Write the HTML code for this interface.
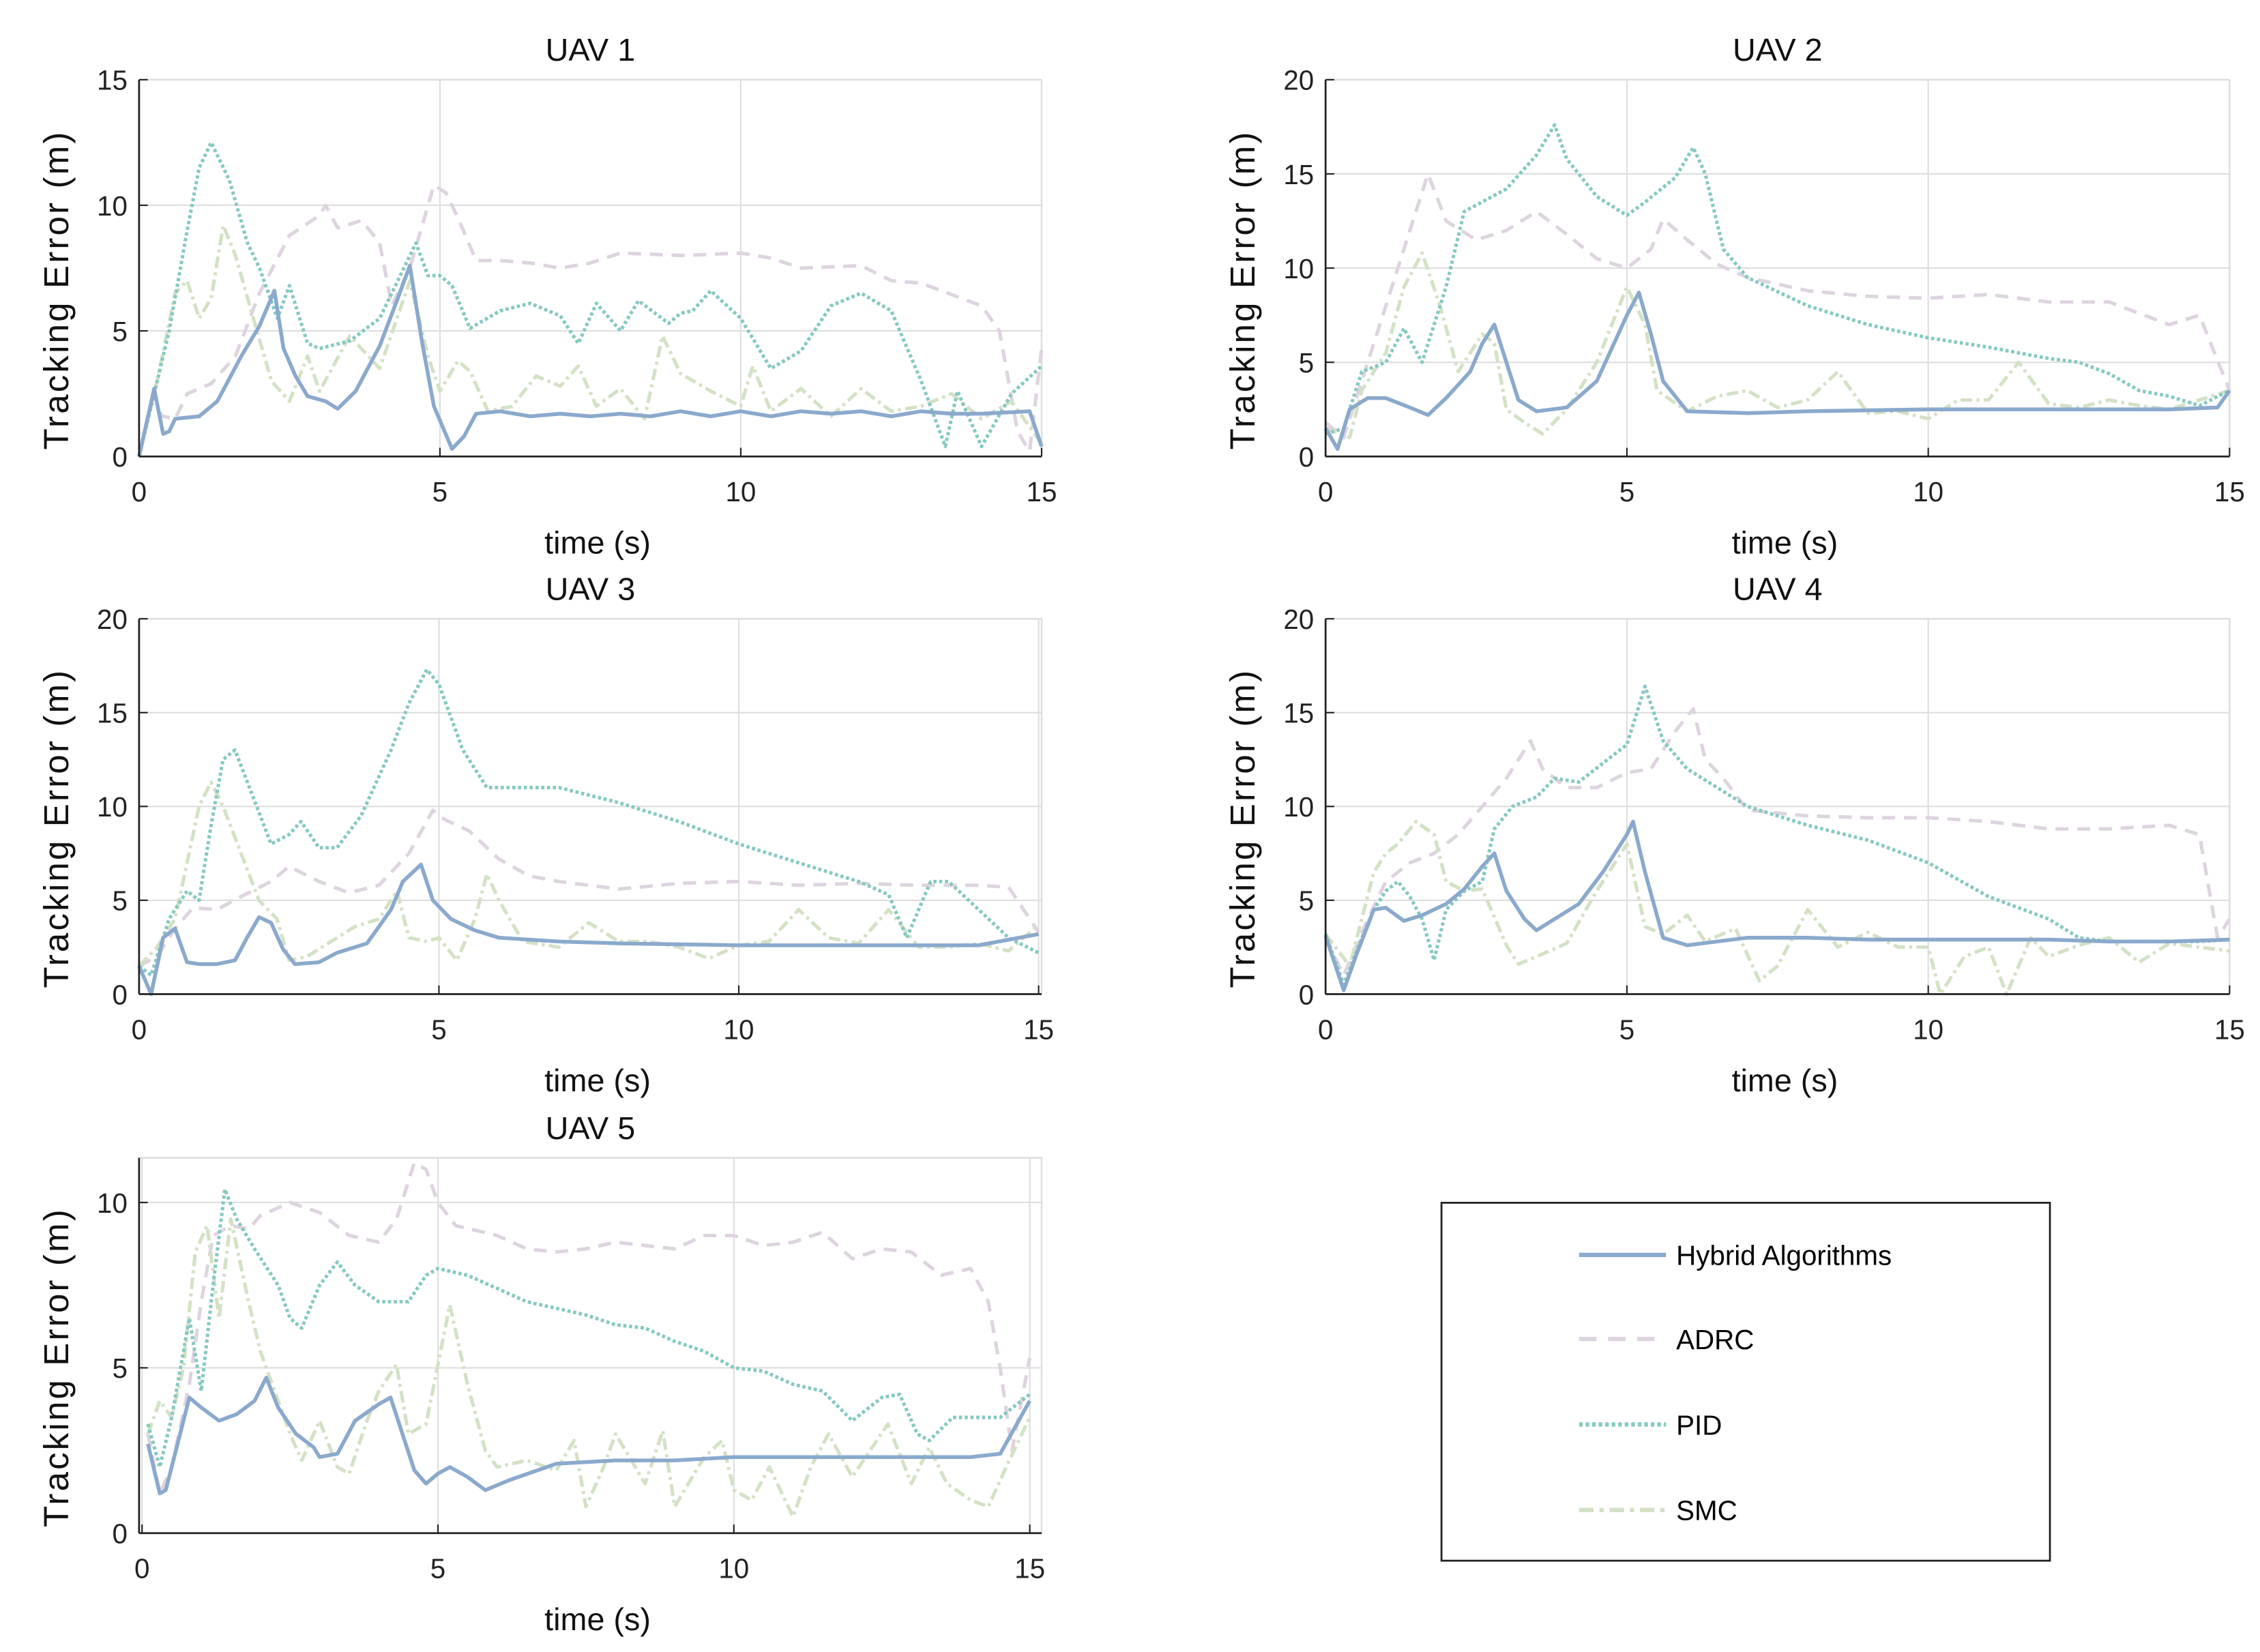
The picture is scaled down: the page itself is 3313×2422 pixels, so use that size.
<!DOCTYPE html>
<html><head><meta charset="utf-8"><style>
html,body{margin:0;padding:0;background:#fff;}
svg{display:block;font-family:"Liberation Sans",sans-serif;}
</style></head><body>
<svg id="fig" width="3313" height="2422" viewBox="0 0 1560 1140" preserveAspectRatio="none" xmlns="http://www.w3.org/2000/svg">
<g>
<rect x="995" y="830" width="420" height="247" fill="#fff" stroke="#222" stroke-width="1.3"/>
<g><line x1="1090" y1="866" x2="1150" y2="866" stroke="#8aa9cc" stroke-width="3"/><text x="1157" y="873" font-size="19">Hybrid Algorithms</text></g>
<g><line x1="1090" y1="924" x2="1150" y2="924" stroke="#ddd4df" stroke-width="3" stroke-dasharray="12,8"/><text x="1157" y="931" font-size="19">ADRC</text></g>
<g><line x1="1090" y1="983" x2="1150" y2="983" stroke="#86c9c1" stroke-width="3" stroke-dasharray="2.5,2"/><text x="1157" y="990" font-size="19">PID</text></g>
<g><line x1="1090" y1="1042" x2="1150" y2="1042" stroke="#d3e1c5" stroke-width="3" stroke-dasharray="10,4,3,4"/><text x="1157" y="1049" font-size="19">SMC</text></g>
</g>
</svg>
<script>
const uav1Hybrid=[[0,0],[0.25,2.7],[0.4,0.9],[0.5,1],[0.6,1.5],[1,1.6],[1.3,2.2],[1.7,4],[2,5.2],[2.25,6.6],[2.4,4.3],[2.6,3.2],[2.8,2.4],[3.1,2.2],[3.3,1.9],[3.6,2.6],[4,4.4],[4.3,6.3],[4.5,7.6],[4.7,4.6],[4.9,2],[5.2,0.3],[5.4,0.8],[5.6,1.7],[6,1.8],[6.5,1.6],[7,1.7],[7.5,1.6],[8,1.7],[8.5,1.6],[9,1.8],[9.5,1.6],[10,1.8],[10.5,1.6],[11,1.8],[11.5,1.7],[12,1.8],[12.5,1.6],[13,1.8],[13.5,1.7],[14,1.7],[14.8,1.8],[15,0.4]];
const uav1Adrc=[[0,0],[0.2,2.1],[0.4,1.6],[0.6,1.5],[0.8,2.5],[1.2,2.9],[1.6,4],[2,6.5],[2.5,8.8],[3,9.6],[3.1,10],[3.3,9.1],[3.7,9.4],[4,8.5],[4.2,6],[4.5,7.5],[4.9,10.8],[5.1,10.5],[5.3,9.5],[5.6,7.8],[6,7.8],[6.5,7.7],[7,7.5],[7.5,7.7],[8,8.1],[9,8],[10,8.1],[10.5,7.9],[11,7.5],[12,7.6],[12.5,7],[13,6.9],[14,6],[14.3,5],[14.6,1],[14.8,0.2],[15,4.3]];
const uav1Pid=[[0,0],[0.5,5],[0.8,9],[1,11.5],[1.2,12.5],[1.5,11],[1.8,8.5],[2,7.5],[2.3,5.5],[2.5,6.8],[2.8,4.5],[3,4.3],[3.5,4.6],[4,5.5],[4.3,7],[4.6,8.5],[4.8,7.2],[5,7.2],[5.2,6.8],[5.5,5.1],[6,5.8],[6.5,6.1],[7,5.6],[7.3,4.5],[7.6,6.1],[8,5],[8.3,6.2],[8.8,5.3],[9,5.7],[9.2,5.8],[9.5,6.6],[10,5.5],[10.5,3.5],[11,4.2],[11.5,6],[12,6.5],[12.5,5.8],[13,3],[13.4,0.4],[13.6,2.6],[14,0.4],[14.5,2.5],[15,3.6]];
const uav1Smc=[[0,0],[0.3,3],[0.6,6.5],[0.8,7],[1,5.5],[1.2,6.3],[1.4,9.2],[1.6,8],[1.9,5.5],[2.2,3],[2.5,2.2],[2.8,4],[3,2.6],[3.5,4.8],[4,3.5],[4.5,7],[4.8,4],[5,2.6],[5.3,3.8],[5.5,3.4],[5.8,1.8],[6.2,2],[6.6,3.2],[7,2.8],[7.3,3.6],[7.6,2],[8,2.7],[8.4,1.5],[8.7,4.8],[9,3.3],[9.5,2.6],[10,2],[10.2,3.6],[10.5,1.8],[11,2.7],[11.5,1.6],[12,2.7],[12.5,1.8],[13,2],[13.5,2.5],[14,1.5],[14.5,2.2],[15,0.5]];
const uav2Hybrid=[[0,1.5],[0.2,0.4],[0.4,2.5],[0.7,3.1],[1,3.1],[1.4,2.6],[1.7,2.2],[2,3.1],[2.4,4.5],[2.6,6],[2.8,7],[3,5],[3.2,3],[3.5,2.4],[4,2.6],[4.5,4],[5,7.5],[5.2,8.7],[5.4,6.5],[5.6,4],[6,2.4],[7,2.3],[8,2.4],[10,2.5],[12,2.5],[14,2.5],[14.8,2.6],[15,3.5]];
const uav2Adrc=[[0,1.8],[0.3,1],[0.6,4],[1,8],[1.4,12],[1.7,15],[2,12.5],[2.5,11.5],[3,12],[3.5,13],[4,11.8],[4.5,10.5],[5,10],[5.4,11],[5.6,12.6],[6,11.5],[6.5,10.2],[7,9.5],[8,8.8],[9,8.5],[10,8.4],[11,8.6],[12,8.2],[13,8.2],[14,7],[14.5,7.5],[15,3.5]];
const uav2Pid=[[0,1.2],[0.3,1.5],[0.6,4.5],[1,5],[1.3,6.8],[1.6,5],[2,9],[2.3,13],[3,14.2],[3.5,16],[3.8,17.6],[4,15.8],[4.5,13.8],[5,12.8],[5.3,13.5],[5.8,14.8],[6.1,16.4],[6.3,15],[6.6,11],[7,9.5],[8,8],[9,7],[10,6.3],[11,5.8],[12,5.2],[12.5,5],[13,4.4],[13.5,3.5],[14,3.2],[14.5,2.7],[15,3.5]];
const uav2Smc=[[0,1.5],[0.4,1],[0.6,3.5],[1,5.5],[1.3,9],[1.6,10.8],[1.9,8],[2.2,4.5],[2.6,6.5],[2.8,6],[3,2.5],[3.3,1.8],[3.6,1.2],[4,2.5],[4.5,5],[5,9],[5.3,7],[5.5,3.5],[6,2.4],[6.5,3.2],[7,3.5],[7.5,2.6],[8,3],[8.5,4.5],[9,2.3],[9.5,2.4],[10,2],[10.5,3],[11,3],[11.5,5],[12,2.8],[12.5,2.6],[13,3],[13.5,2.7],[14,2.5],[14.5,3],[15,3.5]];
const uav3Hybrid=[[0,1.5],[0.2,0],[0.4,3],[0.6,3.5],[0.8,1.7],[1,1.6],[1.3,1.6],[1.6,1.8],[1.8,3],[2,4.1],[2.2,3.8],[2.4,2.4],[2.6,1.6],[3,1.7],[3.3,2.2],[3.8,2.7],[4.2,4.5],[4.4,6],[4.7,6.9],[4.9,5],[5.2,4],[5.6,3.4],[6,3],[7,2.8],[8,2.7],[10,2.6],[12,2.6],[14,2.6],[15,3.2]];
const uav3Adrc=[[0,1.5],[0.3,2],[0.6,3.5],[0.9,4.6],[1.3,4.5],[1.7,5.2],[2.2,6],[2.5,6.8],[3,6],[3.5,5.4],[4,5.8],[4.5,7.5],[4.9,9.8],[5.1,9.3],[5.5,8.7],[6,7.2],[6.5,6.3],[7,6],[8,5.6],[9,5.9],[10,6],[11,5.8],[12,5.9],[13,5.8],[14,5.8],[14.5,5.7],[15,3.3]];
const uav3Pid=[[0,1.5],[0.2,1],[0.5,4],[0.8,5.5],[1,5],[1.2,9],[1.4,12.5],[1.6,13],[1.9,10.5],[2.2,8],[2.5,8.5],[2.7,9.2],[3,7.8],[3.3,7.8],[3.7,9.5],[4.2,13],[4.5,15.5],[4.8,17.3],[5,16.5],[5.4,13],[5.8,11],[6.5,11],[7,11],[8,10.2],[9,9.2],[10,8],[11,7],[12,6],[12.5,5.3],[12.8,3],[13.2,6],[13.5,6],[14,4.5],[14.5,3],[15,2.2]];
const uav3Smc=[[0,1.5],[0.3,2.5],[0.6,4],[1,10],[1.2,11.3],[1.4,10],[1.7,7.5],[2,5],[2.3,4],[2.5,1.8],[2.8,2],[3.2,2.8],[3.6,3.6],[4,4],[4.3,5.5],[4.5,3],[4.8,2.8],[5,3],[5.3,1.8],[5.6,4],[5.8,6.4],[6,5],[6.4,2.8],[7,2.5],[7.5,3.8],[8,2.8],[8.5,2.8],[9,2.5],[9.5,1.9],[10,2.6],[10.5,2.8],[11,4.5],[11.5,3],[12,2.7],[12.5,4.5],[13,2.5],[13.5,2.5],[14,2.7],[14.5,2.3],[15,3.7]];
const uav4Hybrid=[[0,3.1],[0.3,0.2],[0.5,2],[0.8,4.5],[1,4.6],[1.3,3.9],[1.6,4.2],[2,4.8],[2.3,5.6],[2.6,6.8],[2.8,7.5],[3,5.5],[3.3,4],[3.5,3.4],[3.8,4],[4.2,4.8],[4.6,6.5],[5,8.5],[5.1,9.2],[5.3,6.5],[5.6,3],[6,2.6],[7,3],[8,3],[9,2.9],[10,2.9],[11,2.9],[12,2.9],[13,2.8],[14,2.8],[15,2.9]];
const uav4Adrc=[[0,3],[0.3,1],[0.7,4],[1,6],[1.4,7],[1.8,7.5],[2.2,8.5],[2.6,10],[3,11.5],[3.4,13.5],[3.6,12],[4,11],[4.5,11],[5,11.8],[5.4,12],[5.8,14],[6.1,15.2],[6.3,12.5],[6.6,11.5],[7,9.8],[8,9.5],[9,9.4],[10,9.4],[11,9.2],[12,8.8],[13,8.8],[14,9],[14.5,8.5],[14.8,3],[15,4]];
const uav4Pid=[[0,3.2],[0.3,0.5],[0.6,3],[0.8,4.5],[1,5.5],[1.2,6],[1.4,5.2],[1.6,4],[1.8,1.8],[2,4.5],[2.3,5.5],[2.6,6],[2.8,8.8],[3.1,10],[3.5,10.5],[3.8,11.5],[4.2,11.3],[4.6,12.3],[5,13.3],[5.3,16.4],[5.6,13.5],[6,12],[6.5,11],[7,10],[8,9],[9,8.2],[10,7],[11,5.2],[12,4],[12.5,3],[13,2.8],[14,2.8],[14.5,2.8],[15,2.9]];
const uav4Smc=[[0,3.2],[0.4,1.5],[0.8,6.5],[1,7.5],[1.2,8],[1.5,9.2],[1.8,8.5],[2,6],[2.3,5.5],[2.6,5.6],[3,2.6],[3.2,1.6],[3.5,2],[4,2.7],[4.5,5.5],[5,8],[5.3,3.6],[5.6,3.2],[6,4.2],[6.3,2.8],[6.8,3.5],[7.2,0.7],[7.5,1.5],[8,4.5],[8.5,2.5],[9,3.3],[9.5,2.5],[10,2.5],[10.2,0],[10.6,2],[11,2.5],[11.3,0],[11.7,3],[12,2],[12.5,2.6],[13,3],[13.5,1.7],[14,2.7],[14.5,2.5],[15,2.3]];
const uav5Hybrid=[[0.1,2.7],[0.3,1.2],[0.4,1.3],[0.5,2],[0.8,4.1],[1,3.8],[1.3,3.4],[1.6,3.6],[1.9,4],[2.1,4.7],[2.3,3.8],[2.6,3],[2.9,2.6],[3,2.3],[3.3,2.4],[3.6,3.4],[4,3.9],[4.2,4.1],[4.4,3],[4.6,1.9],[4.8,1.5],[5,1.8],[5.2,2],[5.5,1.7],[5.8,1.3],[6.2,1.6],[7,2.1],[8,2.2],[9,2.2],[10,2.3],[11,2.3],[12,2.3],[13,2.3],[14,2.3],[14.5,2.4],[15,4]];
const uav5Adrc=[[0.1,3],[0.3,1.2],[0.5,2],[0.8,4.5],[1,7],[1.2,9],[1.5,9.3],[1.8,9.2],[2,9.6],[2.5,10],[3,9.7],[3.5,9],[4,8.8],[4.3,9.5],[4.6,11.2],[4.8,11],[5,10],[5.3,9.3],[6,9],[6.5,8.6],[7,8.5],[7.5,8.6],[8,8.8],[9,8.6],[9.5,9],[10,9],[10.5,8.7],[11,8.8],[11.5,9.1],[12,8.3],[12.5,8.6],[13,8.5],[13.5,7.8],[14,8],[14.3,7],[14.5,5],[14.7,2.5],[15,5.3]];
const uav5Pid=[[0.1,3.3],[0.3,2],[0.5,3.5],[0.8,6.5],[1,4.3],[1.2,7.5],[1.4,10.4],[1.6,9.5],[1.9,8.6],[2.3,7.5],[2.5,6.5],[2.7,6.2],[3,7.5],[3.3,8.2],[3.6,7.5],[4,7],[4.5,7],[4.8,7.8],[5,8],[5.5,7.8],[6,7.4],[6.5,7],[7,6.8],[7.5,6.6],[8,6.3],[8.5,6.2],[9,5.8],[9.5,5.5],[10,5],[10.5,4.9],[11,4.5],[11.5,4.3],[12,3.4],[12.5,4.1],[12.8,4.2],[13.1,3],[13.3,2.8],[13.7,3.5],[14,3.5],[14.5,3.5],[15,4.2]];
const uav5Smc=[[0.1,3],[0.3,4],[0.5,3.5],[0.7,5],[0.9,8.5],[1.1,9.3],[1.3,6.5],[1.5,9.5],[1.8,7],[2,5.5],[2.3,4],[2.5,3],[2.7,2.2],[3,3.4],[3.3,2],[3.5,1.8],[3.8,3.4],[4,4.3],[4.3,5.1],[4.5,3],[4.8,3.3],[5.2,6.9],[5.5,4.5],[5.8,2.5],[6,2],[6.5,2.2],[7,1.9],[7.3,2.8],[7.5,0.8],[7.8,2],[8,3],[8.5,1.5],[8.8,3.1],[9,0.8],[9.5,2.3],[9.8,2.8],[10,1.3],[10.3,1],[10.6,2],[11,0.5],[11.3,2],[11.6,3],[12,1.7],[12.3,2.5],[12.6,3.3],[13,1.5],[13.3,2.6],[13.6,1.5],[14,1],[14.3,0.8],[14.6,2],[15,3.5]];
const xTicks=[0,5,10,15];
const yTicks15=[0,5,10,15];
const yTicks20=[0,5,10,15,20];
const yTicks5=[0,5,10];

const NS="http://www.w3.org/2000/svg";
const svg=document.getElementById('fig');
const legend=svg.firstElementChild;
function mk(tag,attrs,parent){const e=document.createElementNS(NS,tag);for(const k in attrs)e.setAttribute(k,attrs[k]);(parent||svg).insertBefore(e,parent?null:legend);return e;}
const styles={hybrid:{c:"#8aa9cc",d:"none",w:2.6},adrc:{c:"#ddd4df",d:"9,6",w:2.4},pid:{c:"#86c9c1",d:"2.2,1.8",w:2.4},smc:{c:"#d3e1c5",d:"8,3,2,3",w:2.4}};
const panels=[
 {n:"uav-1",t:"UAV 1",l:96,r:719,top:55,b:315,x0:0,x1:15,y1:15,yt:yTicks15,s:{adrc:uav1Adrc,smc:uav1Smc,pid:uav1Pid,hybrid:uav1Hybrid}},
 {n:"uav-2",t:"UAV 2",l:915,r:1539,top:55,b:315,x0:0,x1:15,y1:20,yt:yTicks20,s:{adrc:uav2Adrc,smc:uav2Smc,pid:uav2Pid,hybrid:uav2Hybrid}},
 {n:"uav-3",t:"UAV 3",l:96,r:719,top:427,b:686,x0:0,x1:15.05,y1:20,yt:yTicks20,s:{adrc:uav3Adrc,smc:uav3Smc,pid:uav3Pid,hybrid:uav3Hybrid}},
 {n:"uav-4",t:"UAV 4",l:915,r:1539,top:427,b:686,x0:0,x1:15,y1:20,yt:yTicks20,s:{adrc:uav4Adrc,smc:uav4Smc,pid:uav4Pid,hybrid:uav4Hybrid}},
 {n:"uav-5",t:"UAV 5",l:96,r:719,top:799,b:1058,x0:-0.05,x1:15.2,y1:11.35,yt:yTicks5,s:{adrc:uav5Adrc,smc:uav5Smc,pid:uav5Pid,hybrid:uav5Hybrid}}
];
panels.forEach(p=>{
 const g=mk('g',{});
 
 
 const X=v=>p.l+(v-p.x0)/(p.x1-p.x0)*(p.r-p.l);
 const Y=v=>p.b-v/p.y1*(p.b-p.top);
 xTicks.forEach(t=>{const e=mk('line',{x1:X(t),x2:X(t),y1:p.top,y2:p.b,stroke:"#dedede","stroke-width":1},g);
  
  });
 p.yt.forEach(t=>{const e=mk('line',{x1:p.l,x2:p.r,y1:Y(t),y2:Y(t),stroke:"#dedede","stroke-width":1},g);
  
  });
 mk('line',{x1:p.l,x2:p.r,y1:p.top,y2:p.top,stroke:"#dedede","stroke-width":1.2},g);
 mk('line',{x1:p.r,x2:p.r,y1:p.top,y2:p.b,stroke:"#dedede","stroke-width":1.2},g);
 ["adrc","smc","pid","hybrid"].forEach(k=>{
  const st=styles[k];
  const d=p.s[k].map((pt,i)=>(i?"L":"M")+X(pt[0]).toFixed(1)+","+Y(Math.max(0,Math.min(p.y1,pt[1]))).toFixed(1)).join("");
  const e=mk('path',{d:d,fill:"none",stroke:st.c,"stroke-width":st.w,"stroke-dasharray":st.d,"stroke-linejoin":"round"},g);
  
  
 });
 const ax=mk('line',{x1:p.l,x2:p.r,y1:p.b,y2:p.b,stroke:"#222","stroke-width":1.3},g);
 
 
 const ay=mk('line',{x1:p.l,x2:p.l,y1:p.top,y2:p.b,stroke:"#222","stroke-width":1.3},g);
 
 
 xTicks.forEach(t=>{
  mk('line',{x1:X(t),x2:X(t),y1:p.b,y2:p.b-6,stroke:"#222","stroke-width":1},g);
  const e=mk('text',{x:X(t),y:p.b+31,"font-size":19,"text-anchor":"middle",fill:"#222"},g);
  e.textContent=t;
  
  
 });
 p.yt.forEach(t=>{
  mk('line',{x1:p.l,x2:p.l+6,y1:Y(t),y2:Y(t),stroke:"#222","stroke-width":1},g);
  const e=mk('text',{x:p.l-8,y:Y(t)+7,"font-size":19,"text-anchor":"end",fill:"#222"},g);
  e.textContent=t;
  
  
 });
 const ti=mk('text',{x:(p.l+p.r)/2,y:p.top-13,"font-size":22,"text-anchor":"middle",fill:"#111"},g);
 ti.textContent=p.t;
 
 
 const xl=mk('text',{x:(p.l+p.r)/2+5,y:p.b+67,"font-size":22,"text-anchor":"middle",fill:"#111"},g);
 xl.textContent="time (s)";
 
 
 const cy=(p.top+p.b)/2+15;
 const yl=mk('text',{x:0,y:0,"font-size":24,"letter-spacing":"1.5","text-anchor":"middle",fill:"#111",transform:`translate(${p.l-49},${cy}) rotate(-90)`},g);
 yl.textContent="Tracking Error (m)";
 
 
});
</script>
</body></html>
